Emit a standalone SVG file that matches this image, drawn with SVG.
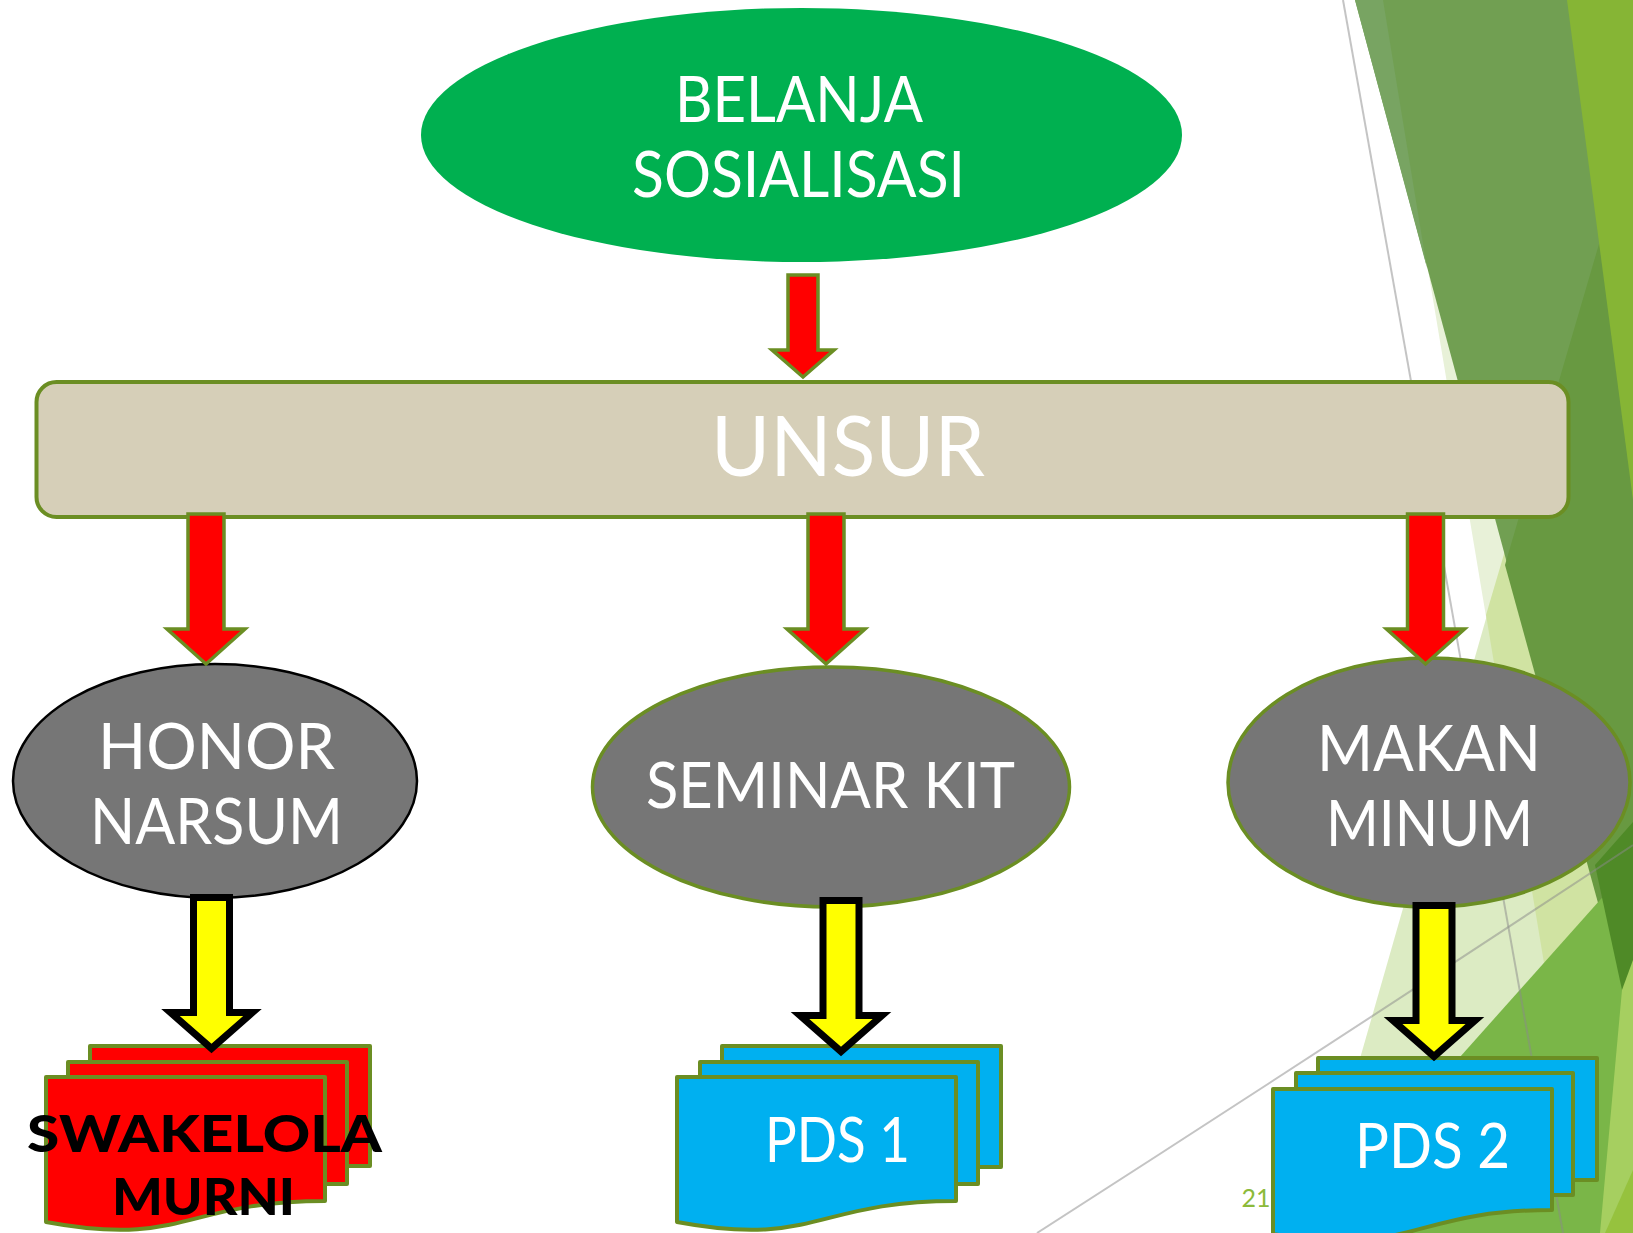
<svg xmlns="http://www.w3.org/2000/svg" width="1633" height="1233" viewBox="0 0 1633 1233">
<style>
.lbl{font-family:Lato,"Open Sans","DejaVu Sans",sans-serif;fill:#ffffff;font-size:64px;text-anchor:middle}
.blk{font-family:Lato,"Open Sans","DejaVu Sans",sans-serif;fill:#000000;font-size:52px;font-weight:900;text-anchor:middle}
.ell{fill:#767676;stroke:#6B8E23;stroke-width:3.5}
.red{fill:#FF0000;stroke:#6B8E23;stroke-width:3.5;stroke-linejoin:miter}
.yel{fill:#FFFF00;stroke:#000000;stroke-width:7;stroke-linejoin:miter}
.doc{stroke:#6B8E23;stroke-width:4;stroke-linejoin:round}
.rdoc{fill:#FF0000}
.bdoc{fill:#00B0F0}
.gline{stroke:#8A8A8A;stroke-opacity:0.5;stroke-width:2;fill:none}
</style>
<defs>
<path id="redArrow" d="M-18,0 H18 V115 H39 L0,150 L-39,115 H-18 Z"/>
<path id="yelArrow" d="M-18,0 H18 V115 H41 L0,151 L-41,115 H-18 Z"/>
</defs>
<rect width="1633" height="1233" fill="#ffffff"/>
<g id="background">
<polygon points="1383,0 1633,0 1633,1233 1589,1233" fill="#E8F1D8"/>
<polygon points="1520,500 1633,500 1633,1233 1310,1233" fill="#DCEBC3"/>
<polygon points="1520,500 1633,500 1633,1233 1589,1233 1486,615" fill="#D0E3A2"/>
<polygon points="1355,0 1633,0 1633,1030" fill="#719F52"/>
<polygon points="1355,0 1383,0 1427,268" fill="#78A462"/>
<polygon points="1633,128 1505,565 1633,1030" fill="#689941"/>
<polygon points="1567,0 1633,0 1633,500" fill="#86B535"/>
<polygon points="1303,1233 1633,863 1633,1233" fill="#7AB648"/>
<polygon points="1595,865 1633,822 1633,985 1622,990" fill="#4F8A27"/>
<polygon points="1622,990 1633,960 1633,1233 1600,1233" fill="#A6CF60"/>
<polygon points="1633,1170 1633,1233 1605,1233" fill="#96C23E"/>
<line class="gline" x1="1343" y1="0" x2="1563" y2="1233"/>
<path class="gline" d="M1037,1233 Q1330,1045 1633,845"/>
<text x="1256" y="1207" font-family="Lato,'Open Sans',sans-serif" font-size="25" fill="#8CBA3A" text-anchor="middle">21</text>
</g>
<g id="node-belanja">
<ellipse cx="801.5" cy="135" rx="380.5" ry="127" fill="#00B050"/>
<text class="lbl" x="799" y="122" textLength="248" lengthAdjust="spacingAndGlyphs">BELANJA</text>
<text class="lbl" x="798.5" y="197" textLength="333" lengthAdjust="spacingAndGlyphs">SOSIALISASI</text>
</g>
<g id="node-unsur">
<rect x="36.5" y="382" width="1532" height="135" rx="20" ry="20" fill="#D6CFB8" stroke="#6B8E23" stroke-width="4"/>
<text class="lbl" x="848" y="476" style="font-size:84px" textLength="274" lengthAdjust="spacingAndGlyphs">UNSUR</text>
</g>
<g id="node-honor">
<ellipse cx="215" cy="781" rx="202" ry="117" fill="#767676" stroke="#000000" stroke-width="2.5"/>
<text class="lbl" x="216.5" y="769" textLength="237" lengthAdjust="spacingAndGlyphs">HONOR</text>
<text class="lbl" x="216.5" y="844" textLength="253" lengthAdjust="spacingAndGlyphs">NARSUM</text>
</g>
<g id="node-seminar">
<ellipse class="ell" cx="831" cy="787" rx="238.5" ry="120"/>
<text class="lbl" x="830.5" y="808" textLength="369" lengthAdjust="spacingAndGlyphs">SEMINAR KIT</text>
</g>
<g id="node-makan">
<ellipse class="ell" cx="1429" cy="782.5" rx="201" ry="124.5"/>
<text class="lbl" x="1429" y="771" textLength="224" lengthAdjust="spacingAndGlyphs">MAKAN</text>
<text class="lbl" x="1429.5" y="846" textLength="207" lengthAdjust="spacingAndGlyphs">MINUM</text>
</g>
<g id="node-swakelola">
<rect class="doc rdoc" x="90" y="1046" width="280" height="120"/>
<rect class="doc rdoc" x="68" y="1062" width="279" height="122"/>
<path class="doc rdoc" d="M46,1077 H325 V1201 C185,1201 185,1248 46,1222 Z"/>
<text class="blk" x="204.5" y="1152" textLength="355" lengthAdjust="spacingAndGlyphs">SWAKELOLA</text>
<text class="blk" x="203.5" y="1215" textLength="183" lengthAdjust="spacingAndGlyphs">MURNI</text>
</g>
<g id="node-pds1">
<rect class="doc bdoc" x="722" y="1046" width="279" height="121"/>
<rect class="doc bdoc" x="700" y="1062" width="278" height="122"/>
<path class="doc bdoc" d="M677,1077 H956 V1201 C816,1201 816,1248 677,1222 Z"/>
<text class="lbl" x="837.5" y="1162" style="font-size:62px" textLength="145" lengthAdjust="spacingAndGlyphs">PDS 1</text>
</g>
<g id="node-pds2">
<rect class="doc bdoc" x="1318" y="1058" width="279" height="122"/>
<rect class="doc bdoc" x="1296" y="1073" width="277" height="122"/>
<path class="doc bdoc" d="M1273,1089 H1552 V1210 C1412,1210 1412,1258 1273,1234 Z"/>
<text class="lbl" x="1432.5" y="1168" style="font-size:62px" textLength="155" lengthAdjust="spacingAndGlyphs">PDS 2</text>
</g>
<g id="connectors">
<path class="red" d="M-15,0 H15 V75 H31 L0,102 L-31,75 H-15 Z" transform="translate(803,275)"/>
<use href="#redArrow" class="red" transform="translate(206,514)"/>
<use href="#redArrow" class="red" transform="translate(826,514)"/>
<use href="#redArrow" class="red" transform="translate(1425.5,514)"/>
<use href="#yelArrow" class="yel" transform="translate(211.5,897.5)"/>
<use href="#yelArrow" class="yel" transform="translate(841,900.5)"/>
<use href="#yelArrow" class="yel" transform="translate(1434,905.5)"/>
</g>
</svg>
